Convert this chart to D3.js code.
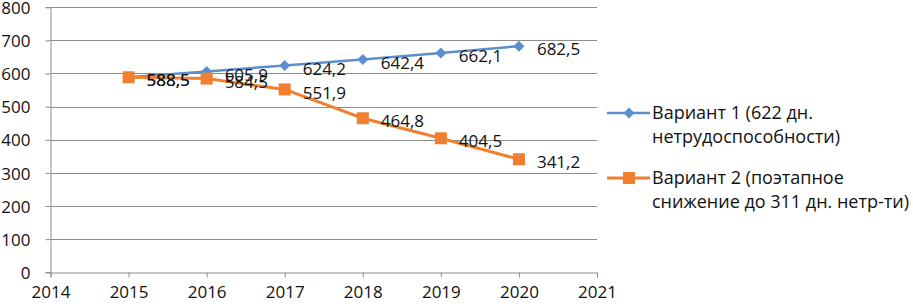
<!DOCTYPE html>
<html>
<head>
<meta charset="utf-8">
<script src="https://cdn.jsdelivr.net/npm/d3@7"></script>
<style>
  body { margin: 0; background: #fff; }
  svg { display: block; font-family: "Open Sans", sans-serif; }
</style>
</head>
<body>
<svg id="chart" width="913" height="306"></svg>
<script>
const years = [2015, 2016, 2017, 2018, 2019, 2020];
const variant1 = [588.5, 605.9, 624.2, 642.4, 662.1, 682.5];
const variant2 = [588.5, 584.5, 551.9, 464.8, 404.5, 341.2];
const seriesNames = [
  ['Вариант 1 (622 дн.', 'нетрудоспособности)'],
  ['Вариант 2 (поэтапное', 'снижение до 311 дн. нетр-ти)']
];
const xTicks = [2014, 2015, 2016, 2017, 2018, 2019, 2020, 2021];
const yTicks = [0, 100, 200, 300, 400, 500, 600, 700, 800];

const svg = d3.select('#chart');
const fmt = v => v.toFixed(1).replace('.', ',');

const x = d3.scaleLinear().domain([2014, 2021]).range([50.5, 597]);
const y = d3.scaleLinear().domain([0, 800]).range([272.3, 7.2]);

const series = [
  { name: seriesNames[0], values: variant1, color: '#5B8FCC', marker: 'diamond' },
  { name: seriesNames[1], values: variant2, color: '#F07F2F', marker: 'square' }
];

// grid
svg.append('g')
  .selectAll('line')
  .data(yTicks.filter(d => d > 0))
  .enter()
  .append('line')
  .attr('x1', x(2014)).attr('x2', x(2021))
  .attr('y1', d => Math.round(y(d)) + 0.5).attr('y2', d => Math.round(y(d)) + 0.5)
  .attr('stroke', '#8c8c8c').attr('stroke-width', 1);

// axes
const yAxis = svg.append('g')
  .attr('transform', `translate(${x(2014)},0)`)
  .call(d3.axisLeft(y).tickValues(yTicks).tickSize(5).tickPadding(15).tickFormat(d3.format('d')));
const xAxis = svg.append('g')
  .attr('transform', `translate(0,${Math.round(y(0)) + 0.5})`)
  .call(d3.axisBottom(x).tickValues(xTicks).tickSize(5).tickPadding(8).tickFormat(d3.format('d')));
[yAxis, xAxis].forEach(a => {
  a.select('.domain').attr('stroke', '#8c8c8c');
  a.selectAll('.tick line').attr('stroke', '#8c8c8c');
  a.selectAll('text').attr('fill', '#111').style('font-size', '17px').style('font-family', '"Open Sans", sans-serif');
});
yAxis.selectAll('text').attr('dy', '0.36em');

const line = d3.line().x((d, i) => x(years[i])).y(d => y(d));

function drawMarker(g, type, color) {
  if (type === 'diamond') {
    g.append('path').attr('d', 'M0,-5.5L5.5,0L0,5.5L-5.5,0Z').attr('fill', color);
  } else {
    g.append('rect').attr('x', -6).attr('y', -6).attr('width', 12).attr('height', 12).attr('fill', color);
  }
}

series.forEach(s => {
  svg.append('path')
    .datum(s.values)
    .attr('d', line)
    .attr('fill', 'none')
    .attr('stroke', s.color)
    .attr('stroke-width', s.marker === 'square' ? 3 : 2.5);
  s.values.forEach((v, i) => {
    const g = svg.append('g').attr('transform', `translate(${x(years[i])},${y(v)})`);
    drawMarker(g, s.marker, s.color);
  });
});

// data labels
series.forEach(s => {
  svg.append('g')
    .selectAll('text')
    .data(s.values)
    .enter()
    .append('text')
    .attr('x', (d, i) => x(years[i]) + 18)
    .attr('y', d => y(d) + 3)
    .attr('dy', '0.36em')
    .attr('fill', '#111')
    .style('font-size', '17px')
    .text(d => fmt(d));
});

// legend
const legendY = [113, 178];
series.forEach((s, i) => {
  const g = svg.append('g').attr('transform', `translate(0,${legendY[i]})`);
  g.append('line').attr('x1', 607).attr('x2', 650).attr('y1', 0).attr('y2', 0)
    .attr('stroke', s.color).attr('stroke-width', s.marker === 'square' ? 3 : 2.5);
  const m = g.append('g').attr('transform', 'translate(629,0)');
  drawMarker(m, s.marker, s.color);
  g.selectAll('text')
    .data(s.name)
    .enter()
    .append('text')
    .attr('x', 652)
    .attr('y', (d, j) => j * 24)
    .attr('dy', '0.36em')
    .attr('fill', '#111')
    .style('font-size', '18px')
    .text(d => d);
});
</script>
</body>
</html>
